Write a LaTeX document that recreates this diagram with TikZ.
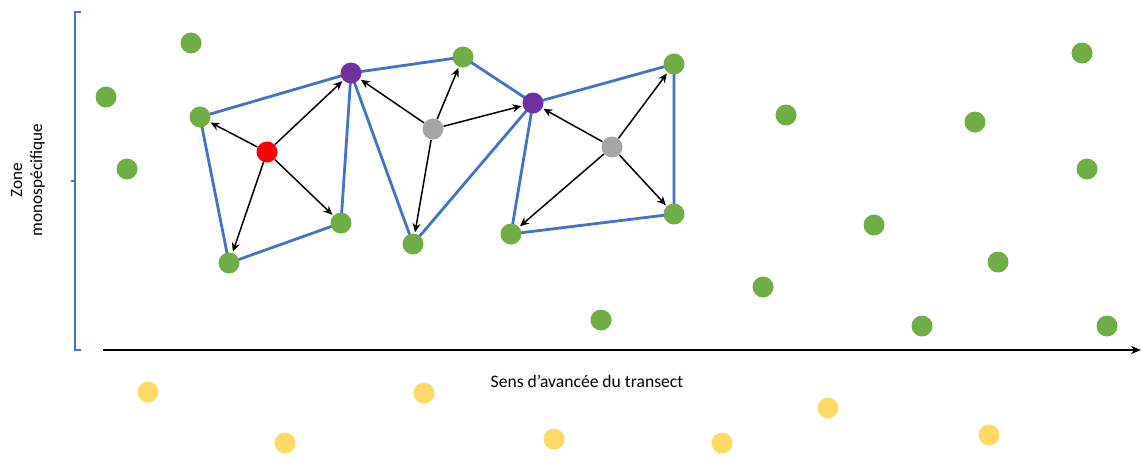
\documentclass[tikz,border=0pt]{standalone}
\usepackage{fontspec}
\setmainfont{Carlito}
\usetikzlibrary{arrows.meta, calc, backgrounds}
\definecolor{dotgreen}{HTML}{70AD47}
\definecolor{dotyellow}{HTML}{FFD966}
\definecolor{dotpurple}{HTML}{7030A0}
\definecolor{dotgray}{HTML}{A5A5A5}
\definecolor{edgeblue}{HTML}{4472C4}
\begin{document}
\begin{tikzpicture}[x=0.5pt, y=-0.5pt,
        dot/.style={circle, inner sep=0pt, minimum size=10.5pt},
        green/.style={dot, fill=dotgreen},
        yellow/.style={dot, fill=dotyellow},
        seed/.style={dot, fill=red},
        purple/.style={dot, fill=dotpurple},
        grey/.style={dot, fill=dotgray},
        link/.style={edgeblue, line width=1.4pt},
        jump/.style={-{Stealth[length=4.5pt, width=4pt]}, black, line width=0.75pt, shorten >=0.5pt}]
            \useasboundingbox (0,0) rectangle (1141,457);

            % 1. Bracket of the zone and transect axis
            \coordinate (btop) at (75,12);
            \coordinate (bbot) at (75,350);
            \coordinate (bmid) at (75,181);
            \draw[edgeblue, line width=1pt] ($(btop)+(6,0)$) -- (btop) -- (bbot) -- ++(6,0);
            \draw[edgeblue, line width=1pt] (bmid) -- ++(-4,0);
            \node[rotate=90, align=center, font=\fontsize{8.6}{10}\selectfont] (zone) at (28,180) {Zone\\monospécifique};

            \coordinate (axstart) at (103,350);
            \coordinate (axend) at (1141,350);
            \draw[-{Stealth[length=5pt, width=4pt]}, line width=1.1pt] (axstart) -- (axend);
            \node[font=\fontsize{8.8}{10}\selectfont] (sens) at (587,381) {Sens d’avancée du transect};

            % 2. Plants visited along the transect
            \node[seed] (r1) at (267,152) {};
            \node[purple] (p1) at (351,73) {};
            \node[purple] (p2) at (533,103) {};
            \node[grey] (g1) at (433,129) {};
            \node[grey] (g2) at (612,147) {};

            \node[green] (n1) at (200,117) {};
            \node[green] (n2) at (229,263) {};
            \node[green] (n3) at (341,223) {};
            \node[green] (n4) at (463,57) {};
            \node[green] (n5) at (413,244) {};
            \node[green] (n6) at (674,64) {};
            \node[green] (n7) at (511,234) {};
            \node[green] (n8) at (674,214) {};

            % 3. Other plants of the zone
            \node[green] (o1) at (191,43) {};
            \node[green] (o2) at (106,97) {};
            \node[green] (o3) at (127,169) {};
            \node[green] (o4) at (786,115) {};
            \node[green] (o5) at (874,225) {};
            \node[green] (o6) at (763,287) {};
            \node[green] (o7) at (601,320) {};
            \node[green] (o8) at (975,122) {};
            \node[green] (o9) at (1082,53) {};
            \node[green] (o10) at (1087,169) {};
            \node[green] (o11) at (998,262) {};
            \node[green] (o12) at (922,326) {};
            \node[green] (o13) at (1107,326) {};

            % 4. Plants outside the zone
            \node[yellow] (y1) at (148,392) {};
            \node[yellow] (y2) at (285,443) {};
            \node[yellow] (y3) at (424,393) {};
            \node[yellow] (y4) at (554,439) {};
            \node[yellow] (y5) at (722,443) {};
            \node[yellow] (y6) at (828,408) {};
            \node[yellow] (y7) at (989,435) {};

            % 5. Neighbourhood links
            \begin{scope}[on background layer]
            \draw[link] (n1.center) -- (p1.center);
            \draw[link] (n1.center) -- (n2.center) -- (n3.center) -- (p1.center);
            \draw[link] (p1.center) -- (n4.center) -- (p2.center);
            \draw[link] (p1.center) -- (n5.center) -- (p2.center);
            \draw[link] (p2.center) -- (n7.center) -- (n8.center) -- (n6.center) -- (p2.center);
            \end{scope}

            % 6. Moves from each plant to its neighbours
            \draw[jump] (r1) -- (n1);
            \draw[jump] (r1) -- (p1);
            \draw[jump] (r1) -- (n2);
            \draw[jump] (r1) -- (n3);
            \draw[jump] (g1) -- (p1);
            \draw[jump] (g1) -- (n4);
            \draw[jump] (g1) -- (p2);
            \draw[jump] (g1) -- (n5);
            \draw[jump] (g2) -- (p2);
            \draw[jump] (g2) -- (n6);
            \draw[jump] (g2) -- (n7);
            \draw[jump] (g2) -- (n8);

        \end{tikzpicture}
\end{document}
